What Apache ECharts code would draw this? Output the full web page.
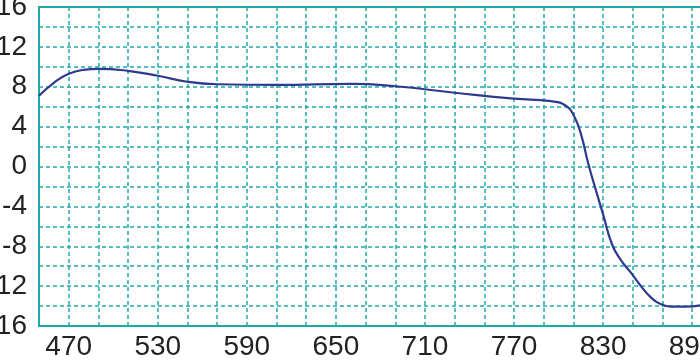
<!DOCTYPE html>
<html>
<head>
<meta charset="utf-8">
<script src="https://cdn.jsdelivr.net/npm/echarts@6/dist/echarts.min.js"></script>
<style>
html,body{margin:0;padding:0;background:#fff;}
#c{width:700px;height:361px;}
</style>
</head>
<body>
<div id="c"></div>
<script>
// Wavelength (x) and value (y)
var wavelengths = [450, 460, 470, 480, 490, 510, 530, 550, 570, 610, 660, 690, 730, 770, 795, 805, 810, 815, 820, 825, 830, 836, 842, 849, 856, 862, 868, 876, 886, 896];
var values = [7.1, 8.4, 9.3, 9.7, 9.8, 9.6, 9.1, 8.5, 8.25, 8.18, 8.28, 8.05, 7.4, 6.8, 6.55, 6.1, 5.2, 3.3, 0.3, -2.3, -4.8, -7.8, -9.4, -10.7, -12.1, -13.1, -13.75, -14.05, -14.05, -13.9];
var xTickStart = 470, xTickStep = 60;
var yTickStep = 4;

var teal = '#1fa9a6';
var chart = echarts.init(document.getElementById('c'), null, {renderer: 'canvas'});
var pts = wavelengths.map(function (w, i) { return [w, values[i]]; });
chart.setOption({
  animation: false,
  backgroundColor: '#fff',
  grid: {left: 39, top: 7, right: -7, bottom: 35, containLabel: false, outerBoundsMode: 'none',
    show: true, borderColor: teal, borderWidth: 2, backgroundColor: 'transparent'},
  xAxis: {
    type: 'value', min: 450, max: 900, interval: 20,
    axisLine: {show: false},
    axisTick: {show: false},
    splitLine: {show: true, lineStyle: {color: teal, width: 1.5, type: [4, 3]}},
    axisLabel: {
      margin: 7, fontSize: 28, color: '#222', fontFamily: 'Liberation Sans, Arial, sans-serif',
      showMinLabel: true, showMaxLabel: true, hideOverlap: false,
      formatter: function (v) { return ((v - xTickStart) % xTickStep === 0 && v >= xTickStart) ? String(v) : ''; }
    }
  },
  yAxis: {
    type: 'value', min: -16, max: 16, interval: 2,
    axisLine: {show: false},
    axisTick: {show: false},
    splitLine: {show: true, lineStyle: {color: teal, width: 1.5, type: [4, 3]}},
    axisLabel: {
      margin: 12, fontSize: 28, color: '#222', fontFamily: 'Liberation Sans, Arial, sans-serif',
      showMinLabel: true, showMaxLabel: true, hideOverlap: false,
      formatter: function (v) { return (v % yTickStep === 0) ? String(v) : ''; }
    }
  },
  series: [{
    type: 'line', data: pts, smooth: 0.5, showSymbol: false,
    lineStyle: {color: '#2d3a8e', width: 2.2}
  }]
});
</script>
</body>
</html>
